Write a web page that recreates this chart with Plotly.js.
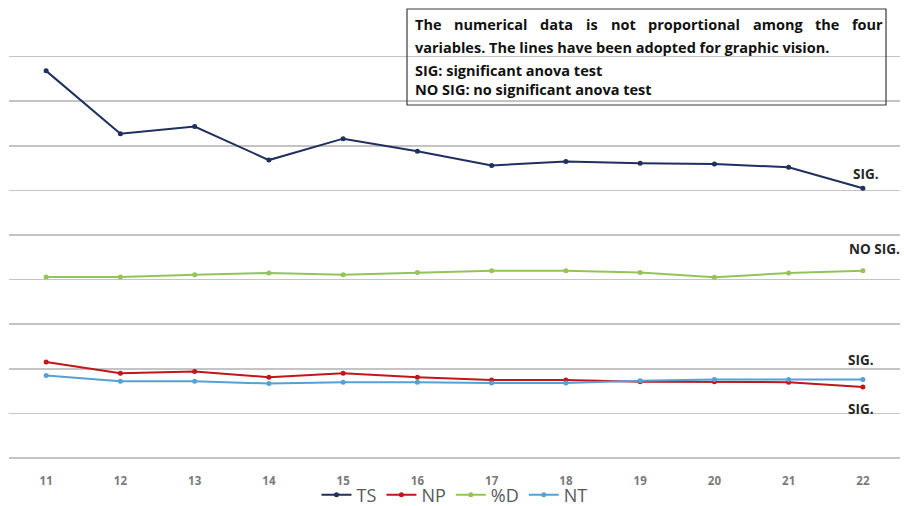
<!DOCTYPE html>
<html>
<head>
<meta charset="utf-8">
<script src="https://cdn.plot.ly/plotly-3.0.1.min.js"></script>
<style>html,body{margin:0;padding:0;background:#fff;}#chart{width:904px;height:506px;}</style>
</head>
<body>
<div id="chart"></div>
<script>
const categories = ["11","12","13","14","15","16","17","18","19","20","21","22"];
const TS = [8.68, 7.27, 7.43, 6.68, 7.16, 6.88, 6.56, 6.65, 6.61, 6.59, 6.52, 6.05];
const pD = [4.06, 4.06, 4.11, 4.15, 4.11, 4.16, 4.20, 4.20, 4.16, 4.05, 4.15, 4.20];
const NP = [2.15, 1.90, 1.94, 1.81, 1.90, 1.81, 1.75, 1.75, 1.71, 1.71, 1.70, 1.59];
const NT = [1.85, 1.72, 1.72, 1.67, 1.70, 1.70, 1.68, 1.68, 1.73, 1.76, 1.76, 1.76];
const seriesNames = ["TS", "NP", "%D", "NT"];
const sigLabels = ["SIG.", "NO SIG.", "SIG.", "SIG."];
const noteLines = [
  "The numerical data is not proportional among the four",
  "variables. The lines have been adopted for graphic vision.",
  "SIG: significant anova test",
  "NO SIG: no significant anova test"
];

const colors = ["#1f2f5e", "#c0161c", "#92c45a", "#55a0d6"];
const data = [TS, NP, pD, NT].map((vals, i) => ({
  type: "scatter", mode: "lines+markers", name: seriesNames[i],
  x: categories, y: vals,
  line: {color: colors[i], width: 2},
  marker: {color: colors[i], size: 5}
}));

// plot area in px: x 9..900, y 12..458
const L = 9, R = 900, T = 12, B = 458;
const px = x => (x - L) / (R - L);
const py = y => (B - y) / (B - T);
const FONT = "Open Sans, Noto Sans, sans-serif";
const NOTE_SIZE = 14.5;

const ann = [];
const sigPos = [[866, 174], [874, 249], [861, 360], [861, 409]];
sigLabels.forEach((t, i) => ann.push({
  xref: "paper", yref: "paper", x: px(sigPos[i][0]), y: py(sigPos[i][1]),
  xanchor: "center", yanchor: "middle", showarrow: false,
  text: "<b>" + t + "</b>", font: {family: FONT, size: 13.5, color: "#262626"}
}));

const lineY = [25, 47, 70, 89];
noteLines.forEach((t, i) => {
  if (i === 0) return;
  ann.push({
    xref: "paper", yref: "paper", x: px(413), y: py(lineY[i]),
    xanchor: "left", yanchor: "middle", showarrow: false,
    text: "<b>" + t + "</b>", font: {family: FONT, size: NOTE_SIZE, color: "#111"}
  });
});
// justified first line: measure words and spread them evenly between the box's text margins
const ctx = document.createElement("canvas").getContext("2d");
ctx.font = "bold " + NOTE_SIZE + "px 'Open Sans'";
const words = noteLines[0].split(" ");
const widths = words.map(w => ctx.measureText(w).width);
const jL = 413, jR = 881;
const gap = (jR - jL - widths.reduce((a, b) => a + b, 0)) / (words.length - 1);
let cur = jL;
words.forEach((w, k) => {
  ann.push({
    xref: "paper", yref: "paper", x: px(cur), y: py(lineY[0]),
    xanchor: "left", yanchor: "middle", showarrow: false,
    text: "<b>" + w + "</b>", font: {family: FONT, size: NOTE_SIZE, color: "#111"}
  });
  cur += widths[k] + gap;
});

const layout = {
  width: 904, height: 506,
  margin: {l: L, r: 904 - R, t: T, b: 506 - B, autoexpand: false},
  paper_bgcolor: "#fff", plot_bgcolor: "#fff",
  showlegend: true,
  legend: {orientation: "h", x: 0.5, xanchor: "center", y: py(495), yanchor: "middle",
           bgcolor: "rgba(0,0,0,0)",
           font: {family: FONT, size: 18, color: "#595959"},
           itemwidth: 30, tracegroupgap: 0},
  xaxis: {type: "category", range: [-0.5, 11.5], showgrid: false, zeroline: false, showline: false,
          ticks: "outside", ticklen: 12, tickcolor: "rgba(0,0,0,0)",
          tickfont: {family: FONT, size: 11.5, color: "#7a7a7a", weight: "bold"}, fixedrange: true},
  yaxis: {range: [0, 10], dtick: 1, showticklabels: false, showgrid: true, gridcolor: "#c4c4c4", gridwidth: 1.6,
          zeroline: true, zerolinecolor: "#c4c4c4", zerolinewidth: 1.6, showline: false, fixedrange: true},
  shapes: [{type: "rect", xref: "paper", yref: "paper", x0: px(407), x1: px(886), y0: py(105), y1: py(9),
            line: {color: "#3a3a3a", width: 1.2}, fillcolor: "rgba(0,0,0,0)"}],
  annotations: ann
};
Plotly.newPlot("chart", data, layout, {displayModeBar: false, staticPlot: true});
</script>
</body>
</html>
